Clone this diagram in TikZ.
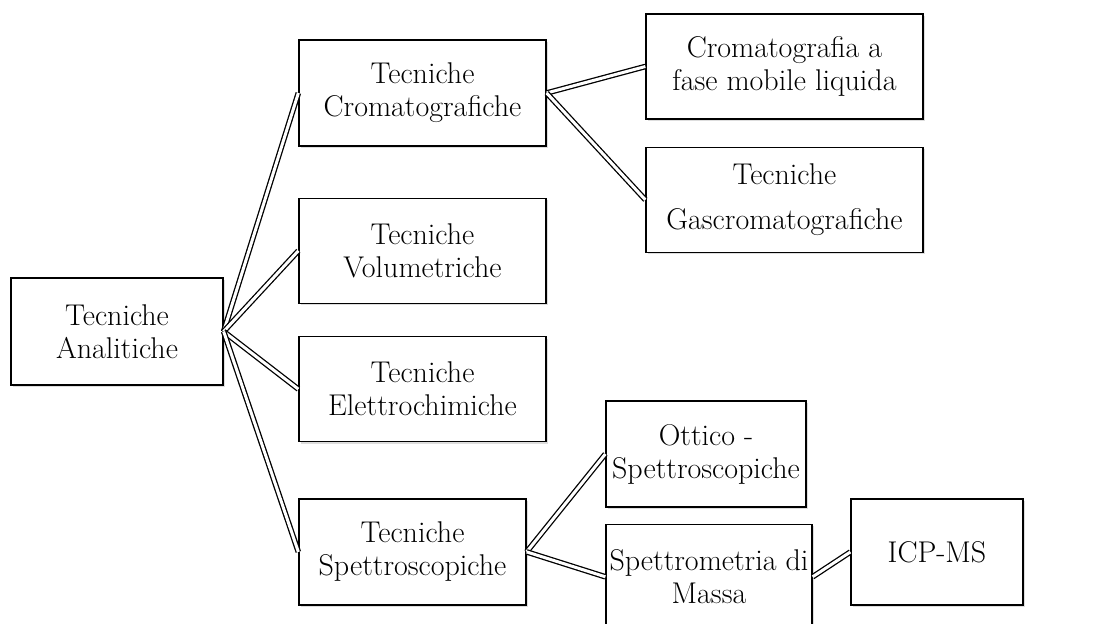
\documentclass[tikz,border=0pt]{standalone}
\usepackage{tikz}
\usetikzlibrary{positioning,shadows}
\definecolor{techInk}{RGB}{0,0,0}
\definecolor{techShade}{RGB}{120,120,120}
\tikzset{
  techbox/.style={
    rectangle, draw=techInk, line width=1.3pt, fill=white,
    text=techInk, align=center, inner xsep=0pt, inner ysep=2pt,
    minimum width=247pt, minimum height=105pt,
    font=\fontsize{30}{33}\selectfont,
    drop shadow={shadow xshift=2pt, shadow yshift=-2pt,
      opacity=0.25, fill=techShade}},
  dblline/.style={draw=techInk, line width=1.3pt, double=white,
    double distance=3pt}
}

\begin{document}
\begin{tikzpicture}[x=1pt,y=-1pt]
    \useasboundingbox (0,0) rectangle (1112,624);

    % ---- root -------------------------------------------------
    \node[techbox, minimum width=212pt, minimum height=107pt] (ana) at (117,331.5) {Tecniche\\Analitiche};

    % ---- second column ----------------------------------------
    \node[techbox, minimum height=106pt] (crom) at (422.5,93) {Tecniche\\Cromatografiche};
    \node[techbox, below=51pt of crom] (vol) {Tecniche\\Volumetriche};
    \node[techbox, below=32pt of vol]  (ele) {Tecniche\\Elettrochimiche};
    \node[techbox, minimum width=227pt, minimum height=106pt,
          below=56pt of ele.south west, anchor=north west] (spet) {Tecniche\\Spettroscopiche};

    \draw[dblline] (ana.east) -- (crom.west);
    \draw[dblline] (ana.east) -- (vol.west);
    \draw[dblline] (ana.east) -- (ele.west);
    \draw[dblline] (ana.east) -- (spet.west);

    % ---- chromatography branch --------------------------------
    \node[techbox, minimum width=277pt] (liq) at (784.5,66.5) {Cromatografia a\\fase mobile liquida};
    \node[techbox, minimum width=277pt, below=27pt of liq] (gas) {Tecniche\\[12pt]Gascromatografiche};

    \draw[dblline] (crom.east) -- (liq.west);
    \draw[dblline] (crom.east) -- (gas.west);

    % ---- spectroscopy branch ----------------------------------
    \node[techbox, minimum width=200pt, minimum height=106pt] (ott) at (706,454) {Ottico -\\Spettroscopiche};
    \node[techbox, minimum width=206pt,
          below=16pt of ott.south west, anchor=north west] (mas) {Spettrometria di\\Massa};
    \node[techbox, minimum width=172pt, minimum height=106pt] (icp) at (937,552) {ICP-MS};

    \draw[dblline] (spet.east) -- (ott.west);
    \draw[dblline] (spet.east) -- (mas.west);
    \draw[dblline] (mas.east)  -- (icp.west);

\end{tikzpicture}
\end{document}
